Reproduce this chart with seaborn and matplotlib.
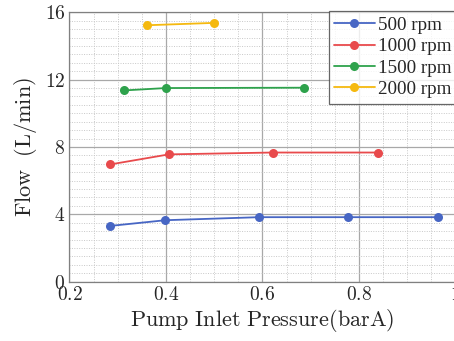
import numpy as np
import pandas as pd
import matplotlib
matplotlib.use("Agg")
import matplotlib.pyplot as plt
import seaborn as sns
from matplotlib.ticker import MultipleLocator, FuncFormatter

# data
p_500 = [0.284, 0.399, 0.593, 0.777, 0.965]
q_500 = [3.31, 3.65, 3.83, 3.83, 3.83]
p_1000 = [0.284, 0.406, 0.621, 0.840]
q_1000 = [6.96, 7.56, 7.67, 7.67]
p_1500 = [0.314, 0.400, 0.686]
q_1500 = [11.36, 11.50, 11.52]
p_2000 = [0.361, 0.500]
q_2000 = [15.23, 15.37]
speeds = ["500 rpm", "1000 rpm", "1500 rpm", "2000 rpm"]
colors = ["#4766c4", "#e84a4c", "#2ea24c", "#f5b90f"]

frames = []
for name, p, q in zip(speeds, [p_500, p_1000, p_1500, p_2000],
                      [q_500, q_1000, q_1500, q_2000]):
    frames.append(pd.DataFrame({"Pressure": p, "Flow": q, "Speed": name}))
df = pd.concat(frames, ignore_index=True)

sns.set_style("white")
plt.rcParams["font.family"] = ["Liberation Serif", "DejaVu Serif"]
plt.rcParams["mathtext.fontset"] = "cm"

fig = plt.figure(figsize=(4.54, 3.41), dpi=100)
ax = fig.add_axes([0.153, 0.174, 0.850, 0.790])

sns.lineplot(data=df, x="Pressure", y="Flow", hue="Speed", hue_order=speeds,
             palette=colors, marker="o", markersize=6.5, markeredgewidth=0,
             linewidth=1.3, sort=False, ax=ax)

ax.set_xlim(0.2, 1.0)
ax.set_ylim(0, 16)
ax.xaxis.set_major_locator(MultipleLocator(0.2))
ax.xaxis.set_minor_locator(MultipleLocator(0.05))
ax.yaxis.set_major_locator(MultipleLocator(4))
ax.yaxis.set_minor_locator(MultipleLocator(0.5))
ax.xaxis.set_major_formatter(FuncFormatter(lambda v, _: r"$%s$" % ("%g" % round(v, 2))))
ax.yaxis.set_major_formatter(FuncFormatter(lambda v, _: r"$%d$" % v))
ax.tick_params(axis="both", which="both", length=0, labelsize=14, pad=3)

ax.grid(which="major", color="#a8a8a8", linewidth=0.9, linestyle="-")
ax.grid(which="minor", color="#c8c8c8", linewidth=0.7, linestyle=(0, (1, 1.5)))
ax.set_axisbelow(True)
for s in ax.spines.values():
    s.set_color("#808080")
    s.set_linewidth(0.9)

ax.set_xlabel(r"$\mathrm{Pump\ Inlet\ Pressure(barA)}$", fontsize=16, labelpad=2)
ax.set_ylabel(r"$\mathrm{Flow\ \ (L/min)}$", fontsize=16, labelpad=4)

leg = ax.legend(loc="upper right", bbox_to_anchor=(1.006, 1.005), fontsize=13.8,
                frameon=True, fancybox=False, edgecolor="#404040",
                handlelength=2.1, handletextpad=0.2, borderpad=0.3,
                labelspacing=0.2, borderaxespad=0)
leg.get_frame().set_linewidth(0.9)

fig.savefig("out.png", dpi=100)
